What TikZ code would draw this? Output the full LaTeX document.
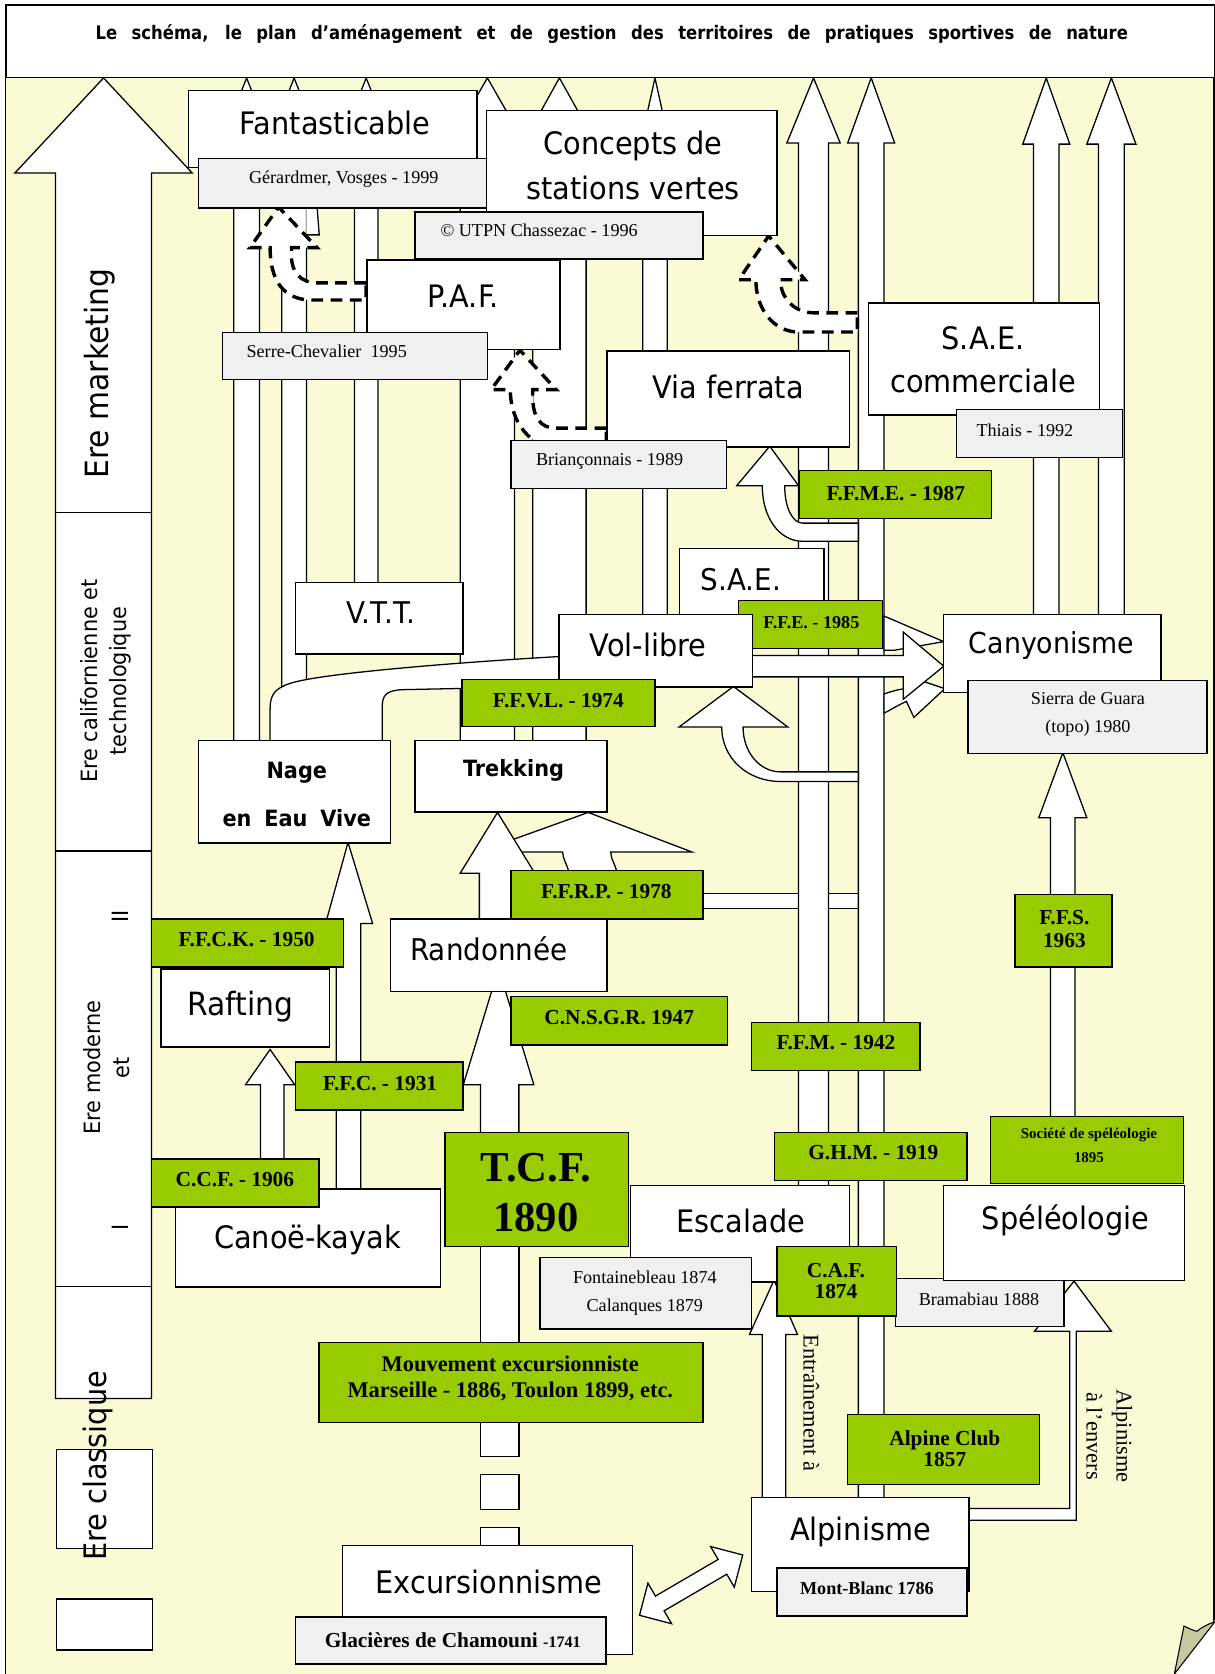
\documentclass[tikz,border=0pt]{standalone}
\usepackage{fontspec}
\setmainfont{Liberation Serif}
\newfontfamily\dv{DejaVu Sans}[FakeStretch=0.93]
\newfontfamily\dvt{DejaVu Sans}[FakeStretch=0.88]
\definecolor{cream}{RGB}{250,250,212}
\definecolor{grn}{RGB}{153,204,0}
\definecolor{gry}{RGB}{240,240,240}
\definecolor{curlc}{RGB}{200,200,160}
\tikzset{
  wb/.style={draw, fill=white, line width=1.3pt, inner sep=0pt},
  gb/.style={draw, fill=gry, line width=1.3pt, inner sep=0pt},
  grb/.style={draw, fill=grn, line width=1.3pt, inner sep=0pt},
  colm/.style={draw, fill=white, line width=1.2pt, line join=miter},
  dsh/.style={draw, fill=white, line width=3.2pt, dash pattern=on 11pt off 7pt, line join=miter},
  sl/.style={font=\dv\fontsize{#1}{#1}\selectfont, inner sep=0pt, align=center},
  sb/.style={font=\dv\bfseries\fontsize{#1}{#1}\selectfont, inner sep=0pt, align=center},
  tr/.style={font=\fontsize{#1}{#1}\selectfont, inner sep=0pt, align=center},
  tb/.style={font=\bfseries\fontsize{#1}{#1}\selectfont, inner sep=0pt, align=center}
}
\newcommand\bx[6]{\node[#6, anchor=north west, minimum width={(#4-#2)*1pt}, minimum height={(#5-#3)*1pt}] (#1) at (#2,#3) {};}
\newcommand\colar[6]{\path[colm] (#1,#3) -- (#1,#4) -- ({(#1+#2)/2-#5},#4) -- ({(#1+#2)/2},#6) -- ({(#1+#2)/2+#5},#4) -- (#2,#4) -- (#2,#3) -- cycle;}
\begin{document}
\begin{tikzpicture}[x=1pt,y=-1pt]
\useasboundingbox (0,0) rectangle (1138,1568);
% page
\fill[cream] (5,72) rectangle (1137,1568);
\draw[line width=1.2pt] (5,72) -- (5,1568);
\draw[line width=1.2pt] (1137,72) -- (1137,1520);
\fill[white] (1100,1568) -- (1139,1516) -- (1139,1568) -- cycle;
\path[draw, fill=curlc, line width=1pt] (1100,1568) -- (1109,1523) .. controls (1113,1525) and (1117,1527) .. (1121,1528) .. controls (1126,1524) and (1132,1521) .. (1138,1519) -- cycle;

% era arrow
\path[colm] (97,73) -- (180,162) -- (142,162) -- (142,1310) -- (52,1310) -- (52,162) -- (14,162) -- cycle;
\draw[line width=1.2pt] (52,480) -- (142,480);
\draw[line width=1.2pt] (52,797) -- (142,797);
\draw[line width=1.2pt] (52,1205) -- (142,1205);
\bx{eraB}{52}{1357}{142}{1450}{wb}
\bx{eraC}{52}{1497}{142}{1545}{wb}

% band F.F.R.P. -> alpinisme column (under columns)
\fill[white] (655,837) rectangle (812,851);
\draw[line width=1.2pt] (655,837) -- (812,837) (655,851) -- (812,851);

% vertical columns with heads
\colar{219}{243}{700}{134}{24}{73}
\colar{264}{287}{700}{134}{24}{73}
\colar{332}{354}{560}{134}{24}{73}
\colar{431}{482}{700}{134}{35}{73}
\colar{499}{549}{700}{134}{34}{73}
\colar{602}{625}{590}{150}{17}{73}
\colar{748}{776}{1120}{134}{25}{73}
\colar{804}{828}{1410}{134}{22}{73}
\colar{968}{992}{590}{135}{22}{73}
\colar{1029}{1053}{590}{135}{23}{73}
\colar{984}{1007}{1055}{766}{22.5}{705}

% small solid piece near Gerardmer
\path[fill=white] (287,194) -- (297,194) -- (299,220) -- (287,220) -- cycle;
\draw[line width=1.2pt] (297,194) -- (299,220) -- (287,220);

% band Vol-libre -> Nage en Eau Vive
\path[colm] (530,615) -- (523,615) .. controls (420,621) and (300,631) .. (272,640) .. controls (257,645) and (253,651) .. (253,664) -- (253,705) -- (358,705) -- (358,662) .. controls (358,651) and (362,647) .. (376,646) -- (523,643) -- (530,643);

% curved arrow to Via ferrata
\path[colm] (804,490) -- (752,490) .. controls (742,490) and (735,475) .. (735,455) -- (748,455) -- (721,418) -- (690,455) -- (714,455) .. controls (714,485) and (730,507) .. (752,507) -- (804,507) -- cycle;
% curved arrow to Vol-libre
\path[colm] (804,723) -- (731,723) .. controls (712,723) and (696,705) .. (696,681) -- (738,681) -- (687,643) -- (636,681) -- (676,681) .. controls (676,710) and (700,732) .. (731,732) -- (804,732) -- cycle;
% diagonal arrows to Canyonisme
\path[colm] (828,577) -- (884,601) -- (838,609) -- (828,609) -- cycle;
\path[colm] (828,668) .. controls (836,664) and (842,660) .. (849,657) -- (856,672) -- (885,645) -- (846,632) -- (848,645) .. controls (840,646) and (834,648) .. (828,650) -- cycle;
% Vol-libre -> Canyonisme
\path[colm] (700,614) -- (846,614) -- (846,592) -- (884,624) -- (846,655) -- (846,634) -- (700,634) -- cycle;

% dashed arrows
\path[dsh] (803,293) -- (762,293) .. controls (745,293) and (731,280) .. (731,262) -- (754,262) -- (720,221) -- (692,262) -- (708,262) .. controls (708,290) and (725,311) .. (748,311) -- (803,311) -- cycle;
\path[dsh] (568,401) -- (520,401) .. controls (506,401) and (499,390) .. (499,372) -- (499,365) -- (521,365) -- (487,328) -- (460,365) -- (478,365) .. controls (478,396) and (497,420) .. (525,420) -- (568,420) -- cycle;
\path[dsh] (343,265) -- (297,265) .. controls (282,265) and (273,255) .. (273,240) -- (273,232) -- (297,232) -- (261,194) -- (234,232) -- (253,232) .. controls (253,262) and (265,281) .. (292,281) -- (343,281) -- cycle;

% lower-left arrows
\path[colm] (315,1120) -- (315,865) -- (305,865) -- (326,789) -- (349,865) -- (338,865) -- (338,1120) -- cycle;
\path[colm] (244,1092) -- (244,1016) -- (230,1016) -- (253,983) -- (276,1016) -- (266,1016) -- (266,1092) -- cycle;
\path[colm] (450,1070) -- (450,1016) -- (434,1016) -- (467,907) -- (500,1016) -- (486,1016) -- (486,1070) -- cycle;
\path[colm] (534,822) .. controls (532,810) and (527,805) .. (527,798) -- (448,798) -- (551,761) -- (648,798) -- (572,798) .. controls (572,805) and (577,810) .. (579,822) -- cycle;
\path[colm] (449,870) -- (449,818) -- (431,818) -- (466,761) -- (501,818) -- (485,818) -- (485,870) -- cycle;
% T.C.F. shaft downwards
\path[colm] (450,1160) rectangle (486,1265);
\path[colm] (450,1325) rectangle (486,1364);
\path[colm] (450,1381) rectangle (486,1414);
\path[colm] (450,1431) rectangle (486,1455);
% alpinisme arrows
\path[colm] (714,1410) -- (714,1250) -- (702,1250) -- (725,1199) -- (747,1250) -- (736,1250) -- (736,1410) -- cycle;
\path[colm] (900,1413) -- (1002,1413) -- (1002,1247) -- (969,1247) -- (1006,1200) -- (1041,1247) -- (1008,1247) -- (1008,1424) -- (900,1424) -- cycle;
\begin{scope}[shift={(599,1513)}, rotate=30.3]
\path[colm] (0,0) -- (22,22) -- (22,8) -- (90,8) -- (90,22) -- (112,0) -- (90,-22) -- (90,-8) -- (22,-8) -- (22,-22) -- cycle;
\end{scope}

% boxes
\bx{title}{5}{4}{1137}{72}{wb}
\bx{fant}{176}{84}{446}{156}{wb}
\bx{gerard}{185}{148}{456}{194}{gb}
\bx{concepts}{455}{103}{727}{220}{wb}
\bx{utpn}{388}{198}{658}{242}{gb}
\bx{paf}{343}{243}{524}{327}{wb}
\bx{serre}{208}{311}{456}{355}{gb}
\bx{via}{568}{328}{795}{418}{wb}
\bx{brian}{478}{412}{680}{457}{gb}
\bx{saec}{813}{283}{1029}{388}{wb}
\bx{thiais}{895}{383}{1051}{428}{gb}
\bx{ffme}{748}{440}{928}{485}{grb}
\bx{sae}{636}{513}{771}{578}{wb}
\bx{ffe}{691}{562}{826}{607}{grb}
\bx{vol}{523}{575}{704}{643}{wb}
\bx{ffvl}{432}{636}{613}{680}{grb}
\bx{canyon}{883}{575}{1087}{648}{wb}
\bx{sierra}{906}{637}{1130}{705}{gb}
\bx{vtt}{276}{545}{433}{612}{wb}
\bx{nage}{185}{693}{365}{789}{wb}
\bx{trek}{388}{693}{568}{760}{wb}
\bx{ffrp}{478}{815}{658}{860}{grb}
\bx{ffck}{141}{860}{321}{905}{grb}
\bx{rando}{365}{860}{568}{928}{wb}
\bx{rafting}{150}{907}{308}{980}{wb}
\bx{cnsgr}{478}{933}{681}{978}{grb}
\bx{ffm}{703}{957}{861}{1002}{grb}
\bx{ffs}{950}{837}{1041}{905}{grb}
\bx{ffc}{276}{994}{433}{1039}{grb}
\bx{tcf}{416}{1060}{588}{1167}{grb}
\bx{canoe}{164}{1113}{412}{1205}{wb}
\bx{ccf}{141}{1085}{298}{1130}{grb}
\bx{ghm}{725}{1060}{905}{1105}{grb}
\bx{socspe}{927}{1045}{1108}{1108}{grb}
\bx{escal}{590}{1110}{795}{1200}{wb}
\bx{fontai}{505}{1177}{703}{1244}{gb}
\bx{brama}{838}{1197}{996}{1242}{gb}
\bx{caf}{727}{1167}{839}{1232}{grb}
\bx{speleo}{883}{1110}{1109}{1199}{wb}
\bx{mouv}{298}{1257}{658}{1332}{grb}
\bx{alpclub}{793}{1324}{973}{1390}{grb}
\bx{alpin}{703}{1402}{907}{1490}{wb}
\bx{montbl}{727}{1468}{905}{1513}{gb}
\bx{excur}{320}{1447}{592}{1549}{wb}
\bx{glac}{276}{1514}{567}{1558}{gb}

% texts
\node[inner sep=0pt, font=\dvt\bfseries\fontsize{17.5}{17.5}\selectfont] (title-t) at (573,32) {\makebox[967pt][s]{Le schéma, le plan d’aménagement et de gestion des territoires de pratiques sportives de nature}};
\node[sl=29] (fant-t) at (314,115) {Fantasticable};
\node[tr=17] (gerard-t) at (322,168) {Gérardmer, Vosges - 1999};
\node[sl=29] (concepts-t) at (593,155) {Concepts de\\[14pt]stations vertes};
\node[tr=17] (utpn-t) at (505,216) {© UTPN Chassezac - 1996};
\node[sl=29] (paf-t) at (434,277) {P.A.F.};
\node[tr=17] (serre-t) at (306,329) {Serre-Chevalier\ \ 1995};
\node[sl=29] (via-t) at (682,362) {Via ferrata};
\node[tr=17] (brian-t) at (571,432) {Briançonnais - 1989};
\node[sl=29] (saec-t) at (921,337) {S.A.E.\\[12pt]commerciale};
\node[tr=17] (thiais-t) at (960,403) {Thiais - 1992};
\node[tb=20] (ffme-t) at (839,462) {F.F.M.E. - 1987};
\node[sl=28] (sae-t) at (694,543) {S.A.E.};
\node[tb=17] (ffe-t) at (760,583) {F.F.E. - 1985};
\node[sl=29] (vol-t) at (607,604) {Vol-libre};
\node[sl=27] (canyon-t) at (985,605) {Canyonisme};
\node[tr=17] (sierra-t) at (1019,669) {Sierra de Guara\\[9pt](topo) 1980};
\node[sl=28] (vtt-t) at (357,574) {V.T.T.};
\node[tb=20] (ffvl-t) at (523,656) {F.F.V.L. - 1974};
\node[sb=21] (nage-t) at (278,744) {Nage\\[24pt]en\hspace{0.25em} Eau\hspace{0.25em} Vive};
\node[sb=21] (trek-t) at (481,722) {Trekking};
\node[tb=20] (ffrp-t) at (568,835) {F.F.R.P. - 1978};
\node[tb=20] (ffck-t) at (231,880) {F.F.C.K. - 1950};
\node[sl=28] (rando-t) at (458,889) {Randonnée};
\node[sl=30] (rafting-t) at (225,943) {Rafting};
\node[tb=20] (cnsgr-t) at (580,953) {C.N.S.G.R. 1947};
\node[tb=20] (ffm-t) at (783,977) {F.F.M. - 1942};
\node[tb=20] (ffs-t) at (997,870) {F.F.S.\\[2pt]1963};
\node[tb=20] (ffc-t) at (356,1015) {F.F.C. - 1931};
\node[tb=40] (tcf-t) at (502,1117) {T.C.F.\\[6pt]1890};
\node[tb=20] (ccf-t) at (220,1105) {C.C.F. - 1906};
\node[tb=20] (ghm-t) at (818,1080) {G.H.M. - 1919};
\node[tb=14] (socspe-t) at (1020,1073) {Société de spéléologie\\[8pt]1895};
\node[sl=29] (canoe-t) at (288,1161) {Canoë-kayak};
\node[sl=29] (escal-t) at (694,1144) {Escalade};
\node[sl=29] (speleo-t) at (998,1143) {Spéléologie};
\node[tr=17] (fontai-t) at (604,1211) {Fontainebleau 1874\\[9pt]Calanques 1879};
\node[tb=20] (caf-t) at (783,1200) {C.A.F.\\1874};
\node[tr=17] (brama-t) at (917,1217) {Bramabiau 1888};
\node[tb=21] (mouv-t) at (478,1291) {Mouvement excursionniste\\[3pt]Marseille - 1886, Toulon 1899, etc.};
\node[tb=20] (alpclub-t) at (885,1357) {Alpine Club\\1857};
\node[sl=29] (alpin-t) at (806,1435) {Alpinisme};
\node[tb=17] (montbl-t) at (812,1488) {Mont-Blanc 1786};
\node[sl=29] (excur-t) at (458,1482) {Excursionnisme};
\node[tb=20] (glac-t) at (424,1536) {Glacières de Chamouni {\fontsize{15}{15}\selectfont -1741}};
\node[tr=21, rotate=-90] (entr-t) at (760,1314) {Entraînement à};
\node[tr=21, rotate=-90] (envers-t) at (1039,1345) {Alpinisme\\[7pt]à l’envers};
% era labels
\node[sl=30, rotate=90] (era1) at (93,350) {Ere marketing};
\node[sl=21, rotate=90] (era2) at (99,638) {Ere californienne et\\[6pt]technologique};
\node[sl=21, rotate=90] (era2n) at (113,858) {II};
\node[sl=21, rotate=90] (era3) at (100,1000) {Ere moderne\\[6pt]et};
\node[sl=21, rotate=90] (era3n) at (113,1150) {I};
\node[sl=29, rotate=90] (era4) at (92,1373) {Ere classique};
\end{tikzpicture}
\end{document}
